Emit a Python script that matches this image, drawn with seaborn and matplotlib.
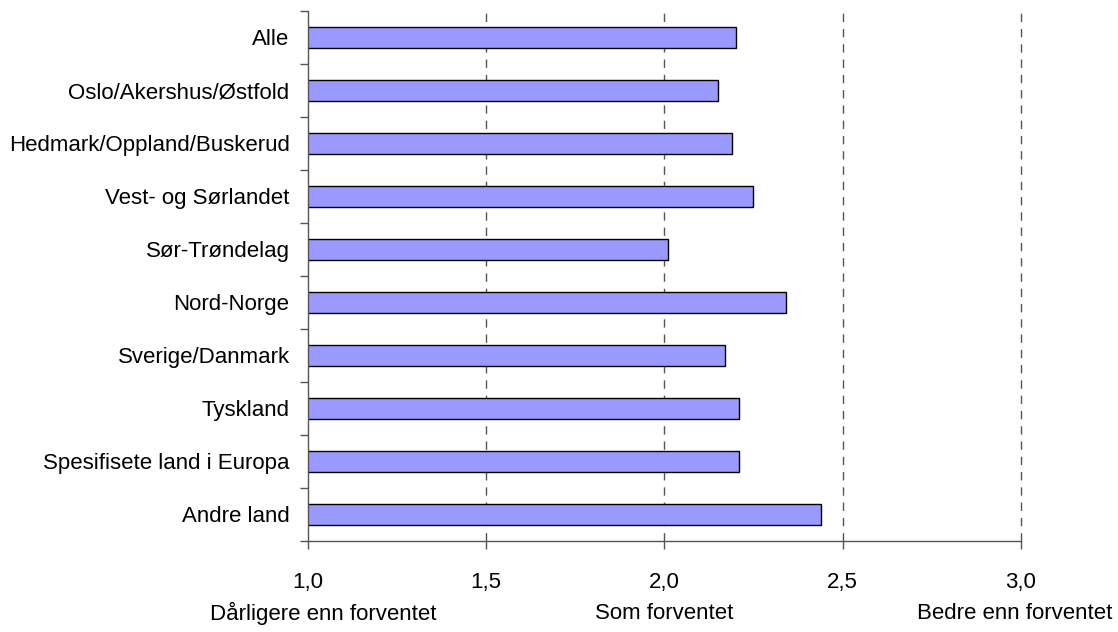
import matplotlib
matplotlib.use("Agg")
import matplotlib.pyplot as plt
import seaborn as sns
import pandas as pd
import numpy as np

# Data
categories = [
    "Alle",
    "Oslo/Akershus/Østfold",
    "Hedmark/Oppland/Buskerud",
    "Vest- og Sørlandet",
    "Sør-Trøndelag",
    "Nord-Norge",
    "Sverige/Danmark",
    "Tyskland",
    "Spesifisete land i Europa",
    "Andre land",
]
values = [2.20, 2.15, 2.19, 2.25, 2.01, 2.34, 2.17, 2.21, 2.21, 2.44]
xticks = [1.0, 1.5, 2.0, 2.5, 3.0]
xtick_labels = ["1,0", "1,5", "2,0", "2,5", "3,0"]
scale_labels = ["Dårligere enn forventet", "Som forventet", "Bedre enn forventet"]
scale_pos = [1.043, 2.0, 2.983]

df = pd.DataFrame({"gruppe": categories, "verdi": values})

sns.set_style("white")
plt.rcParams["font.family"] = ["Liberation Sans", "DejaVu Sans"]
plt.rcParams["text.color"] = "black"
plt.rcParams["xtick.color"] = "black"
plt.rcParams["ytick.color"] = "black"

fig = plt.figure(figsize=(11.18, 6.32), dpi=100)
ax = fig.add_axes([0.2752, 0.144, 0.9132 - 0.2752, 0.9826 - 0.144])

sns.barplot(data=df, x="verdi", y="gruppe", orient="h", color="#9999FF",
            saturation=1, width=0.4, edgecolor="black", linewidth=1, ax=ax)

ax.set_xlim(1.0, 3.0)
ax.set_ylim(len(categories) - 0.5, -0.5)

# dashed vertical grid lines
for xv in xticks[1:]:
    ax.axvline(xv, color="#555555", linewidth=1, linestyle=(0, (6, 5)),
               zorder=0, clip_on=False)

ax.set_xticks(xticks)
ax.set_xticklabels(xtick_labels, fontsize=16)
ax.tick_params(axis="x", bottom=True, direction="out", length=6, width=1,
               color="#555555", labelcolor="black", pad=16)

ax.set_yticks(range(len(categories)))
ax.set_yticklabels(categories, fontsize=16)
ax.tick_params(axis="y", which="major", left=True, length=0, pad=13,
               labelcolor="black")
ax.set_yticks(np.arange(-0.5, len(categories), 1.0), minor=True)
ax.tick_params(axis="y", which="minor", left=True, direction="out", length=6,
               width=1, color="#555555")

ax.set_xlabel("")
ax.set_ylabel("")

for side in ["top", "right"]:
    ax.spines[side].set_visible(False)
for side in ["left", "bottom"]:
    ax.spines[side].set_color("#555555")
    ax.spines[side].set_linewidth(1)

# scale descriptions under the tick labels
trans = ax.get_xaxis_transform()
for xp, lab in zip(scale_pos, scale_labels):
    ax.text(xp, -0.137, lab, transform=trans, ha="center", va="center",
            fontsize=16, color="black")

fig.savefig("out.png", dpi=100)
